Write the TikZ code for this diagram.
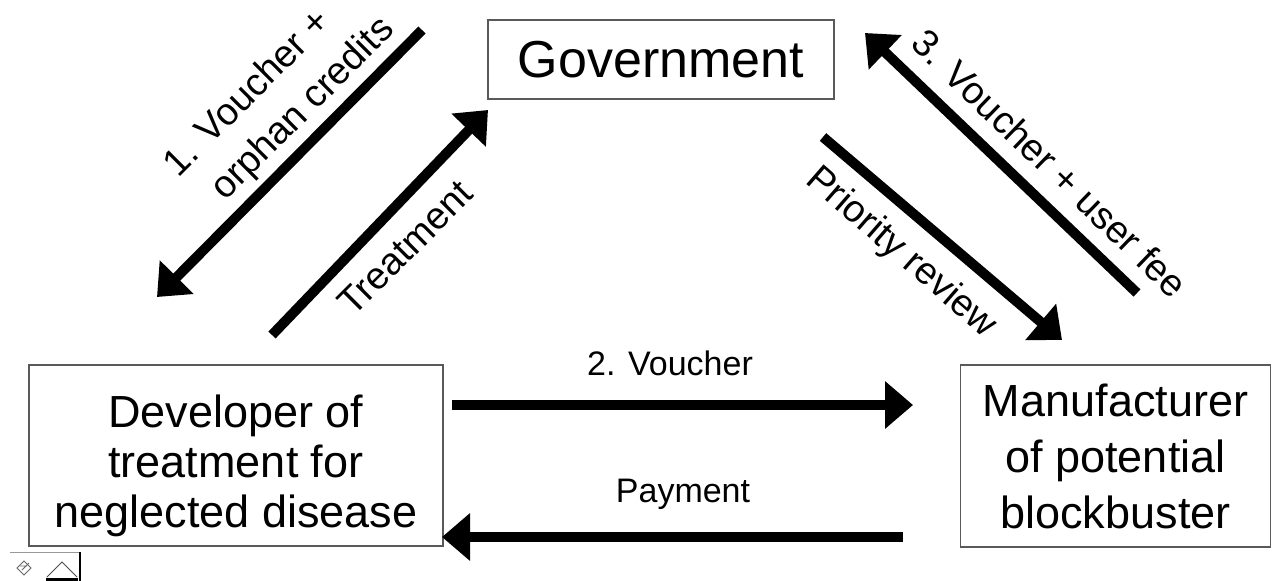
\documentclass[tikz,border=0pt]{standalone}
\usepackage{fontspec}
\setmainfont{Liberation Sans}
\usetikzlibrary{arrows.meta}
\begin{document}
\begin{tikzpicture}[x=1pt,y=-1pt,
  box/.style={draw=black!65, line width=1.3pt, inner sep=0pt, align=center},
  flow/.style={line width=10pt, -{Triangle[length=28pt,width=46pt]}},
  hlbl/.style={font=\fontsize{34}{40}\selectfont, inner sep=0pt},
  dlbl/.style={font=\fontsize{38}{50}\selectfont, inner sep=0pt, align=center}]
\useasboundingbox (0,0) rectangle (1272,581);
% boxes
\node[box, minimum width=346pt, minimum height=79pt, font=\fontsize{52}{60}\selectfont] (gov) at (661,59.5) {Government};
\node[box, minimum width=414pt, minimum height=181pt, font=\fontsize{45}{50}\selectfont] (dev) at (236,455.5)
  {\rule{0pt}{53pt}Developer of\\treatment for\\neglected disease};
\node[box, minimum width=310pt, minimum height=182pt, font=\fontsize{45}{56}\selectfont] (man) at (1115.5,456)
  {Manufacturer\\of potential\\blockbuster};
% connector end points
\coordinate (a1s) at (422,30);   \coordinate (a1e) at (157,297);
\coordinate (trs) at (272,335);  \coordinate (tre) at (488,110);
\coordinate (a3s) at (1137,293); \coordinate (a3e) at (865,33);
\coordinate (prs) at (823,137);  \coordinate (pre) at (1062,340);
\coordinate (v2s) at (452,405);  \coordinate (v2e) at (913,405);
\coordinate (pys) at (903,537);  \coordinate (pye) at (442,537);
% arrows
\draw[flow] (a1s) -- (a1e);
\draw[flow] (trs) -- (tre);
\draw[flow] (a3s) -- (a3e);
\draw[flow] (prs) -- (pre);
\draw[flow] (v2s) -- (v2e);
\draw[flow] (pys) -- (pye);
% labels
\node[dlbl, rotate=45] (l1) at (286,92) {1. Voucher +\rule{56pt}{0pt}\\orphan credits};
\node[dlbl, rotate=45] (ltr) at (405,248) {Treatment};
\node[dlbl, rotate=-44] (l3) at (1050,163) {3. Voucher + user fee};
\node[dlbl, rotate=-41] (lpr) at (901,253) {Priority review};
\node[hlbl, anchor=base] (l2) at (670,375) {2. Voucher};
\node[hlbl, anchor=base] (lpy) at (683,502) {Payment};
% bottom-left artefact
\draw[black!40, line width=1pt] (10,552) -- (80,552);
\draw[black, line width=1.5pt] (80,552) -- (80,581);
\draw[black!70, line width=1pt] (47,577) -- (62,562) -- (77,577);
\draw[black, line width=2.5pt] (46,579.5) -- (78,579.5);
\draw[black!60, line width=1pt] (17,568) -- (24,561) -- (31,568) -- (24,575) -- cycle;
\draw[black!60, line width=0.8pt] (20,566) -- (27,566) (22,570) -- (29,563);
\end{tikzpicture}
\end{document}
